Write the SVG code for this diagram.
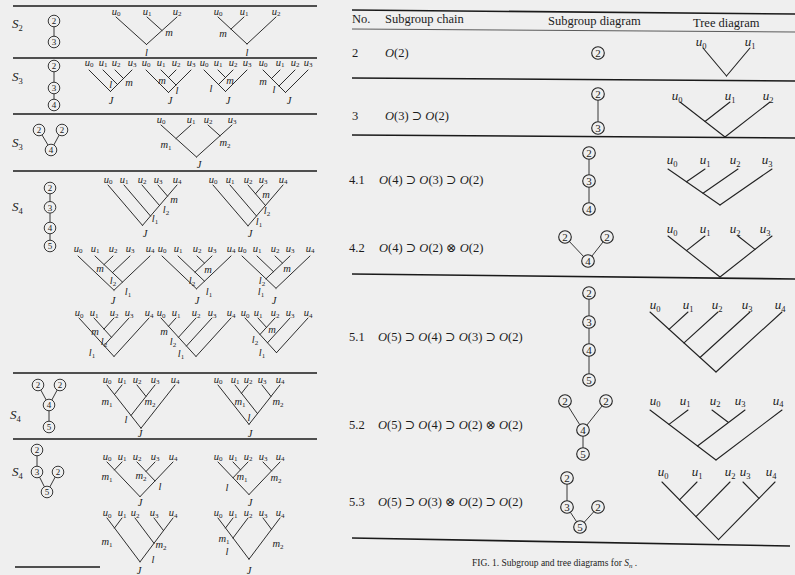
<svg xmlns="http://www.w3.org/2000/svg" width="795" height="575" viewBox="0 0 795 575">
<style>
text{font-family:"Liberation Serif","DejaVu Serif",serif;fill:#1c1c1c}
.bg{fill:#efefef}
.rule{stroke:#1a1a1a;stroke-width:1.6;fill:none}
.thin{stroke:#333;stroke-width:0.8;fill:none}
.tr line{stroke:#222;stroke-width:0.95;stroke-linecap:round}
.rt line{stroke:#222;stroke-width:1.1;stroke-linecap:round}
.nd circle{fill:none;stroke:#222;stroke-width:0.9}
.ndr circle{fill:none;stroke:#222;stroke-width:1.1}
.lk line{stroke:#222;stroke-width:0.9}
.cn{font-size:9px;text-anchor:middle}
.cnr{font-size:11px;text-anchor:middle}
.lu{font-size:10.5px;font-style:italic;text-anchor:middle}
.ls{font-size:7px;font-style:normal}
.ru{font-size:13px;font-style:italic;text-anchor:middle}
.rs{font-size:8.5px;font-style:normal}
.S{font-size:13px;font-style:italic}
.Ss{font-size:8.5px;font-style:normal}
.hd{font-size:12.5px}
.mt{font-size:12.5px}
.it{font-style:italic}
.cap{font-size:9.5px}
</style>
<rect class="bg" x="0" y="0" width="795" height="575"/>

<!-- rules -->
<g id="rules">
<line class="rule" x1="13" y1="6" x2="317" y2="6"/>
<line class="rule" x1="13" y1="58" x2="317" y2="58"/>
<line class="rule" x1="13" y1="114" x2="317" y2="114"/>
<line class="rule" x1="13" y1="171" x2="317" y2="171"/>
<line class="rule" x1="13" y1="373" x2="317" y2="373"/>
<line class="rule" x1="13" y1="439" x2="317" y2="439"/>
<line class="rule" x1="15" y1="567" x2="100" y2="567"/>
<line class="rule" x1="352" y1="10" x2="795" y2="14"/>
<line class="thin" x1="352" y1="29" x2="795" y2="32"/>
<line class="rule" x1="352" y1="78" x2="795" y2="81"/>
<line class="rule" x1="352" y1="135" x2="795" y2="138"/>
<line class="rule" x1="352" y1="274" x2="795" y2="279"/>
<line class="rule" x1="352" y1="538" x2="790" y2="546"/>
</g>

<!-- left panel group labels -->
<g id="slabels">
<text class="S" x="12" y="28">S<tspan class="Ss" dy="2.5">2</tspan></text>
<text class="S" x="12" y="81">S<tspan class="Ss" dy="2.5">3</tspan></text>
<text class="S" x="12" y="147">S<tspan class="Ss" dy="2.5">3</tspan></text>
<text class="S" x="12" y="211">S<tspan class="Ss" dy="2.5">4</tspan></text>
<text class="S" x="10" y="419">S<tspan class="Ss" dy="2.5">4</tspan></text>
<text class="S" x="12" y="476">S<tspan class="Ss" dy="2.5">4</tspan></text>
</g>

<!-- connectors between subgroup circles -->
<g id="connectors" class="lk">
<line x1="54" y1="26.8" x2="54" y2="36.2"/>
<line x1="54" y1="71.8" x2="54" y2="82.2"/>
<line x1="54" y1="93.8" x2="54" y2="99.2"/>
<line x1="42" y1="135" x2="48" y2="145"/>
<line x1="59.2" y1="135" x2="53.8" y2="145"/>
<line x1="50" y1="193.8" x2="50" y2="201.5"/>
<line x1="50" y1="213.1" x2="50" y2="222.2"/>
<line x1="50" y1="233.8" x2="50" y2="240.2"/>
<line x1="40.8" y1="390" x2="46.2" y2="400"/>
<line x1="57.2" y1="390" x2="51.8" y2="400"/>
<line x1="49" y1="410.8" x2="49" y2="421.2"/>
<line x1="37" y1="455.8" x2="37" y2="466.2"/>
<line x1="39.6" y1="477.2" x2="44.4" y2="486.8"/>
<line x1="55.2" y1="477" x2="49.8" y2="487"/>
<line x1="598" y1="100.3" x2="598" y2="121.7"/>
<line x1="589" y1="159.3" x2="589" y2="174.7"/>
<line x1="589" y1="187.3" x2="589" y2="202.7"/>
<line x1="569.4" y1="241.5" x2="583.6" y2="256.5"/>
<line x1="603.1" y1="241.9" x2="591.9" y2="256.1"/>
<line x1="589" y1="299.3" x2="589" y2="315.7"/>
<line x1="589" y1="328.3" x2="589" y2="343.7"/>
<line x1="589" y1="356.3" x2="589" y2="373.7"/>
<line x1="568.3" y1="406.4" x2="579.7" y2="424.6"/>
<line x1="602.1" y1="405.9" x2="586.9" y2="425.1"/>
<line x1="583" y1="436.3" x2="583" y2="447.7"/>
<line x1="567" y1="484.3" x2="567" y2="500.7"/>
<line x1="570.4" y1="512.3" x2="576.6" y2="521.7"/>
<line x1="593.8" y1="511.7" x2="584.2" y2="522.3"/>
</g>

<!-- left subgroup nodes -->
<g id="nA2" class="nd"><circle cx="54" cy="21" r="5.8"/><text class="cn" x="54" y="24.2">2</text></g>
<g id="nA3" class="nd"><circle cx="54" cy="42" r="5.8"/><text class="cn" x="54" y="45.2">3</text></g>
<g id="nB2" class="nd"><circle cx="54" cy="66" r="5.8"/><text class="cn" x="54" y="69.2">2</text></g>
<g id="nB3" class="nd"><circle cx="54" cy="88" r="5.8"/><text class="cn" x="54" y="91.2">3</text></g>
<g id="nB4" class="nd"><circle cx="54" cy="105" r="5.8"/><text class="cn" x="54" y="108.2">4</text></g>
<g id="nC2a" class="nd"><circle cx="39" cy="130" r="5.8"/><text class="cn" x="39" y="133.2">2</text></g>
<g id="nC2b" class="nd"><circle cx="62" cy="130" r="5.8"/><text class="cn" x="62" y="133.2">2</text></g>
<g id="nC4" class="nd"><circle cx="51" cy="150" r="5.8"/><text class="cn" x="51" y="153.2">4</text></g>
<g id="nD2" class="nd"><circle cx="50" cy="188" r="5.8"/><text class="cn" x="50" y="191.2">2</text></g>
<g id="nD3" class="nd"><circle cx="50" cy="207.3" r="5.8"/><text class="cn" x="50" y="210.5">3</text></g>
<g id="nD4" class="nd"><circle cx="50" cy="228" r="5.8"/><text class="cn" x="50" y="231.2">4</text></g>
<g id="nD5" class="nd"><circle cx="50" cy="246" r="5.8"/><text class="cn" x="50" y="249.2">5</text></g>
<g id="nE2a" class="nd"><circle cx="38" cy="385" r="5.8"/><text class="cn" x="38" y="388.2">2</text></g>
<g id="nE2b" class="nd"><circle cx="60" cy="385" r="5.8"/><text class="cn" x="60" y="388.2">2</text></g>
<g id="nE4" class="nd"><circle cx="49" cy="405" r="5.8"/><text class="cn" x="49" y="408.2">4</text></g>
<g id="nE5" class="nd"><circle cx="49" cy="427" r="5.8"/><text class="cn" x="49" y="430.2">5</text></g>
<g id="nF2a" class="nd"><circle cx="37" cy="450" r="5.8"/><text class="cn" x="37" y="453.2">2</text></g>
<g id="nF3" class="nd"><circle cx="37" cy="472" r="5.8"/><text class="cn" x="37" y="475.2">3</text></g>
<g id="nF2b" class="nd"><circle cx="58" cy="472" r="5.8"/><text class="cn" x="58" y="475.2">2</text></g>
<g id="nF5" class="nd"><circle cx="47" cy="492" r="5.8"/><text class="cn" x="47" y="495.2">5</text></g>

<!-- left trees -->
<g id="tA1" class="tr">
<line x1="116" y1="17" x2="146.5" y2="44.5"/><line x1="147" y1="17" x2="162" y2="30.5"/><line x1="177" y1="17" x2="146.5" y2="44.5"/>
<text class="lu" x="116" y="14.5">u<tspan class="ls" dy="1.8">0</tspan></text>
<text class="lu" x="147" y="14.5">u<tspan class="ls" dy="1.8">1</tspan></text>
<text class="lu" x="177" y="14.5">u<tspan class="ls" dy="1.8">2</tspan></text>
<text class="lu" x="169" y="36">m</text><text class="lu" x="146.5" y="56">l</text>
</g>
<g id="tA2" class="tr">
<line x1="218" y1="17" x2="247" y2="44"/><line x1="244" y1="17" x2="231" y2="29.1"/><line x1="276" y1="17" x2="247" y2="44"/>
<text class="lu" x="218" y="14.5">u<tspan class="ls" dy="1.8">0</tspan></text>
<text class="lu" x="244" y="14.5">u<tspan class="ls" dy="1.8">1</tspan></text>
<text class="lu" x="276" y="14.5">u<tspan class="ls" dy="1.8">2</tspan></text>
<text class="lu" x="223" y="37">m</text><text class="lu" x="247" y="56">l</text>
</g>

<g id="tB1" class="tr">
<line x1="89" y1="70" x2="110.5" y2="91.5"/><line x1="103" y1="70" x2="117.5" y2="84.5"/><line x1="115" y1="70" x2="123.5" y2="78.5"/><line x1="132" y1="70" x2="110.5" y2="91.5"/>
<text class="lu" x="89" y="65.5">u<tspan class="ls" dy="1.8">0</tspan></text>
<text class="lu" x="103" y="65.5">u<tspan class="ls" dy="1.8">1</tspan></text>
<text class="lu" x="116" y="65.5">u<tspan class="ls" dy="1.8">2</tspan></text>
<text class="lu" x="132" y="65.5">u<tspan class="ls" dy="1.8">3</tspan></text>
<text class="lu" x="129" y="86">m</text><text class="lu" x="110.7" y="88">l</text><text class="lu" x="111" y="104">J</text>
</g>
<g id="tB2" class="tr">
<line x1="146" y1="70" x2="168.5" y2="92.5"/><line x1="161" y1="70" x2="176" y2="85"/><line x1="176" y1="70" x2="168.5" y2="77.5"/><line x1="191" y1="70" x2="168.5" y2="92.5"/>
<text class="lu" x="146" y="65.5">u<tspan class="ls" dy="1.8">0</tspan></text>
<text class="lu" x="161" y="65.5">u<tspan class="ls" dy="1.8">1</tspan></text>
<text class="lu" x="176" y="65.5">u<tspan class="ls" dy="1.8">2</tspan></text>
<text class="lu" x="191" y="65.5">u<tspan class="ls" dy="1.8">3</tspan></text>
<text class="lu" x="162" y="84">m</text><text class="lu" x="177" y="94">l</text><text class="lu" x="170" y="104">J</text>
</g>
<g id="tB3" class="tr">
<line x1="204" y1="70" x2="225.5" y2="91.5"/><line x1="218" y1="70" x2="225.5" y2="77.5"/><line x1="233" y1="70" x2="218.5" y2="84.5"/><line x1="247" y1="70" x2="225.5" y2="91.5"/>
<text class="lu" x="204" y="65.5">u<tspan class="ls" dy="1.8">0</tspan></text>
<text class="lu" x="218" y="65.5">u<tspan class="ls" dy="1.8">1</tspan></text>
<text class="lu" x="233" y="65.5">u<tspan class="ls" dy="1.8">2</tspan></text>
<text class="lu" x="247" y="65.5">u<tspan class="ls" dy="1.8">3</tspan></text>
<text class="lu" x="230" y="84">m</text><text class="lu" x="211" y="92">l</text><text class="lu" x="228" y="104">J</text>
</g>
<g id="tB4" class="tr">
<line x1="263" y1="70" x2="285.5" y2="92.5"/><line x1="280" y1="70" x2="271.5" y2="78.5"/><line x1="295" y1="70" x2="279" y2="86"/><line x1="308" y1="70" x2="285.5" y2="92.5"/>
<text class="lu" x="263" y="65.5">u<tspan class="ls" dy="1.8">0</tspan></text>
<text class="lu" x="280" y="65.5">u<tspan class="ls" dy="1.8">1</tspan></text>
<text class="lu" x="295" y="65.5">u<tspan class="ls" dy="1.8">2</tspan></text>
<text class="lu" x="308" y="65.5">u<tspan class="ls" dy="1.8">3</tspan></text>
<text class="lu" x="263" y="85">m</text><text class="lu" x="274" y="93">l</text><text class="lu" x="289" y="104">J</text>
</g>

<g id="tC1" class="tr">
<line x1="161" y1="125" x2="196.5" y2="157"/><line x1="191" y1="125" x2="176" y2="138.5"/><line x1="208" y1="125" x2="220" y2="135.8"/><line x1="232" y1="125" x2="196.5" y2="157"/>
<text class="lu" x="161" y="122.5">u<tspan class="ls" dy="1.8">0</tspan></text>
<text class="lu" x="191" y="122.5">u<tspan class="ls" dy="1.8">1</tspan></text>
<text class="lu" x="208" y="122.5">u<tspan class="ls" dy="1.8">2</tspan></text>
<text class="lu" x="232" y="122.5">u<tspan class="ls" dy="1.8">3</tspan></text>
<text class="lu" x="166" y="148">m<tspan class="ls" dy="1.8">1</tspan></text>
<text class="lu" x="225" y="146">m<tspan class="ls" dy="1.8">2</tspan></text>
<text class="lu" x="199" y="168">J</text>
</g>

<g id="tD1" class="tr">
<line x1="108" y1="185" x2="142.5" y2="225.4"/><line x1="124" y1="185" x2="150.5" y2="216"/><line x1="142" y1="185" x2="159.5" y2="205.5"/><line x1="158" y1="185" x2="167.5" y2="196.1"/><line x1="177" y1="185" x2="142.5" y2="225.4"/>
<text class="lu" x="108" y="182.5">u<tspan class="ls" dy="1.8">0</tspan></text>
<text class="lu" x="124" y="182.5">u<tspan class="ls" dy="1.8">1</tspan></text>
<text class="lu" x="142" y="182.5">u<tspan class="ls" dy="1.8">2</tspan></text>
<text class="lu" x="158" y="182.5">u<tspan class="ls" dy="1.8">3</tspan></text>
<text class="lu" x="177" y="182.5">u<tspan class="ls" dy="1.8">4</tspan></text>
<text class="lu" x="174" y="203">m</text>
<text class="lu" x="166" y="213">l<tspan class="ls" dy="1.8">2</tspan></text>
<text class="lu" x="155" y="222">l<tspan class="ls" dy="1.8">1</tspan></text>
<text class="lu" x="145" y="237">J</text>
</g>
<g id="tD2" class="tr">
<line x1="213" y1="185" x2="248" y2="225.9"/><line x1="230" y1="185" x2="256.5" y2="216"/><line x1="248" y1="185" x2="265.5" y2="205.5"/><line x1="263" y1="185" x2="255.5" y2="193.8"/><line x1="283" y1="185" x2="248" y2="225.9"/>
<text class="lu" x="213" y="182.5">u<tspan class="ls" dy="1.8">0</tspan></text>
<text class="lu" x="230" y="182.5">u<tspan class="ls" dy="1.8">1</tspan></text>
<text class="lu" x="248" y="182.5">u<tspan class="ls" dy="1.8">2</tspan></text>
<text class="lu" x="263" y="182.5">u<tspan class="ls" dy="1.8">3</tspan></text>
<text class="lu" x="283" y="182.5">u<tspan class="ls" dy="1.8">4</tspan></text>
<text class="lu" x="266" y="198">m</text>
<text class="lu" x="267" y="214">l<tspan class="ls" dy="1.8">2</tspan></text>
<text class="lu" x="259" y="225">l<tspan class="ls" dy="1.8">1</tspan></text>
<text class="lu" x="250" y="237">J</text>
</g>

<g id="tD3" class="tr">
<line x1="78" y1="256" x2="114" y2="290.2"/><line x1="95" y1="256" x2="122.5" y2="282.1"/><line x1="113" y1="256" x2="104" y2="264.6"/><line x1="130" y1="256" x2="112.5" y2="272.6"/><line x1="150" y1="256" x2="114" y2="290.2"/>
<text class="lu" x="78" y="251.5">u<tspan class="ls" dy="1.8">0</tspan></text>
<text class="lu" x="95" y="251.5">u<tspan class="ls" dy="1.8">1</tspan></text>
<text class="lu" x="113" y="251.5">u<tspan class="ls" dy="1.8">2</tspan></text>
<text class="lu" x="130" y="251.5">u<tspan class="ls" dy="1.8">3</tspan></text>
<text class="lu" x="150" y="251.5">u<tspan class="ls" dy="1.8">4</tspan></text>
<text class="lu" x="100" y="272">m</text>
<text class="lu" x="113" y="284">l<tspan class="ls" dy="1.8">2</tspan></text>
<text class="lu" x="128" y="295">l<tspan class="ls" dy="1.8">1</tspan></text>
<text class="lu" x="113" y="303.5">J</text>
</g>
<g id="tD4" class="tr">
<line x1="162" y1="256" x2="196.5" y2="288.8"/><line x1="178" y1="256" x2="204.5" y2="281.2"/><line x1="197" y1="256" x2="204.5" y2="263.1"/><line x1="212" y1="256" x2="195" y2="272.2"/><line x1="231" y1="256" x2="196.5" y2="288.8"/>
<text class="lu" x="162" y="251.5">u<tspan class="ls" dy="1.8">0</tspan></text>
<text class="lu" x="178" y="251.5">u<tspan class="ls" dy="1.8">1</tspan></text>
<text class="lu" x="197" y="251.5">u<tspan class="ls" dy="1.8">2</tspan></text>
<text class="lu" x="212" y="251.5">u<tspan class="ls" dy="1.8">3</tspan></text>
<text class="lu" x="231" y="251.5">u<tspan class="ls" dy="1.8">4</tspan></text>
<text class="lu" x="208" y="273">m</text>
<text class="lu" x="192" y="284">l<tspan class="ls" dy="1.8">2</tspan></text>
<text class="lu" x="209" y="295">l<tspan class="ls" dy="1.8">1</tspan></text>
<text class="lu" x="197" y="303.5">J</text>
</g>
<g id="tD5" class="tr">
<line x1="242" y1="256" x2="276" y2="288.3"/><line x1="257" y1="256" x2="273.5" y2="271.7"/><line x1="275" y1="256" x2="282.5" y2="263.1"/><line x1="290" y1="256" x2="266" y2="278.8"/><line x1="310" y1="256" x2="276" y2="288.3"/>
<text class="lu" x="242" y="251.5">u<tspan class="ls" dy="1.8">0</tspan></text>
<text class="lu" x="257" y="251.5">u<tspan class="ls" dy="1.8">1</tspan></text>
<text class="lu" x="275" y="251.5">u<tspan class="ls" dy="1.8">2</tspan></text>
<text class="lu" x="290" y="251.5">u<tspan class="ls" dy="1.8">3</tspan></text>
<text class="lu" x="310" y="251.5">u<tspan class="ls" dy="1.8">4</tspan></text>
<text class="lu" x="287" y="272">m</text>
<text class="lu" x="262" y="284">l<tspan class="ls" dy="1.8">2</tspan></text>
<text class="lu" x="261" y="295">l<tspan class="ls" dy="1.8">1</tspan></text>
<text class="lu" x="274" y="303.5">J</text>
</g>

<g id="tD6" class="tr">
<line x1="79" y1="318" x2="114" y2="356.5"/><line x1="94" y1="318" x2="111.5" y2="337.3"/><line x1="114" y1="318" x2="104" y2="329"/><line x1="129" y1="318" x2="104" y2="345.5"/><line x1="149" y1="318" x2="114" y2="356.5"/>
<text class="lu" x="79" y="316">u<tspan class="ls" dy="1.8">0</tspan></text>
<text class="lu" x="94" y="316">u<tspan class="ls" dy="1.8">1</tspan></text>
<text class="lu" x="114" y="316">u<tspan class="ls" dy="1.8">2</tspan></text>
<text class="lu" x="129" y="316">u<tspan class="ls" dy="1.8">3</tspan></text>
<text class="lu" x="149" y="316">u<tspan class="ls" dy="1.8">4</tspan></text>
<text class="lu" x="95" y="335">m</text>
<text class="lu" x="104" y="345">l<tspan class="ls" dy="1.8">2</tspan></text>
<text class="lu" x="92" y="356">l<tspan class="ls" dy="1.8">1</tspan></text>
</g>
<g id="tD7" class="tr">
<line x1="161" y1="318" x2="196" y2="356.5"/><line x1="176" y1="318" x2="168.5" y2="326.3"/><line x1="196" y1="318" x2="178.5" y2="337.3"/><line x1="212" y1="318" x2="186.5" y2="346"/><line x1="231" y1="318" x2="196" y2="356.5"/>
<text class="lu" x="161" y="316">u<tspan class="ls" dy="1.8">0</tspan></text>
<text class="lu" x="176" y="316">u<tspan class="ls" dy="1.8">1</tspan></text>
<text class="lu" x="196" y="316">u<tspan class="ls" dy="1.8">2</tspan></text>
<text class="lu" x="212" y="316">u<tspan class="ls" dy="1.8">3</tspan></text>
<text class="lu" x="231" y="316">u<tspan class="ls" dy="1.8">4</tspan></text>
<text class="lu" x="164" y="335">m</text>
<text class="lu" x="173" y="345">l<tspan class="ls" dy="1.8">2</tspan></text>
<text class="lu" x="181" y="357">l<tspan class="ls" dy="1.8">1</tspan></text>
</g>
<g id="tD8" class="tr">
<line x1="245" y1="318" x2="276.5" y2="352.7"/><line x1="258" y1="318" x2="266.5" y2="327.4"/><line x1="275" y1="318" x2="260" y2="334.5"/><line x1="290" y1="318" x2="267.5" y2="342.8"/><line x1="308" y1="318" x2="276.5" y2="352.7"/>
<text class="lu" x="245" y="316">u<tspan class="ls" dy="1.8">0</tspan></text>
<text class="lu" x="258" y="316">u<tspan class="ls" dy="1.8">1</tspan></text>
<text class="lu" x="275" y="316">u<tspan class="ls" dy="1.8">2</tspan></text>
<text class="lu" x="290" y="316">u<tspan class="ls" dy="1.8">3</tspan></text>
<text class="lu" x="308" y="316">u<tspan class="ls" dy="1.8">4</tspan></text>
<text class="lu" x="272" y="333">m</text>
<text class="lu" x="255" y="343">l<tspan class="ls" dy="1.8">2</tspan></text>
<text class="lu" x="262" y="356">l<tspan class="ls" dy="1.8">1</tspan></text>
</g>

<g id="tE1" class="tr">
<line x1="107" y1="385" x2="141" y2="428.2"/><line x1="122" y1="385" x2="114.5" y2="394.5"/><line x1="137" y1="385" x2="146" y2="396.4"/><line x1="155" y1="385" x2="131" y2="415.5"/><line x1="175" y1="385" x2="141" y2="428.2"/>
<text class="lu" x="107" y="382.5">u<tspan class="ls" dy="1.8">0</tspan></text>
<text class="lu" x="122" y="382.5">u<tspan class="ls" dy="1.8">1</tspan></text>
<text class="lu" x="137" y="382.5">u<tspan class="ls" dy="1.8">2</tspan></text>
<text class="lu" x="155" y="382.5">u<tspan class="ls" dy="1.8">3</tspan></text>
<text class="lu" x="175" y="382.5">u<tspan class="ls" dy="1.8">4</tspan></text>
<text class="lu" x="107" y="405">m<tspan class="ls" dy="1.8">1</tspan></text>
<text class="lu" x="150" y="405">m<tspan class="ls" dy="1.8">2</tspan></text>
<text class="lu" x="126" y="423">l</text>
<text class="lu" x="140" y="437">J</text>
</g>
<g id="tE2" class="tr">
<line x1="218" y1="385" x2="249" y2="424.4"/><line x1="235" y1="385" x2="257.5" y2="413.6"/><line x1="248" y1="385" x2="241.5" y2="393.3"/><line x1="262" y1="385" x2="271" y2="396.4"/><line x1="280" y1="385" x2="249" y2="424.4"/>
<text class="lu" x="218" y="382.5">u<tspan class="ls" dy="1.8">0</tspan></text>
<text class="lu" x="235" y="382.5">u<tspan class="ls" dy="1.8">1</tspan></text>
<text class="lu" x="248" y="382.5">u<tspan class="ls" dy="1.8">2</tspan></text>
<text class="lu" x="262" y="382.5">u<tspan class="ls" dy="1.8">3</tspan></text>
<text class="lu" x="280" y="382.5">u<tspan class="ls" dy="1.8">4</tspan></text>
<text class="lu" x="240" y="405">m<tspan class="ls" dy="1.8">1</tspan></text>
<text class="lu" x="278" y="405">m<tspan class="ls" dy="1.8">2</tspan></text>
<text class="lu" x="249" y="421">l</text>
<text class="lu" x="250" y="437">J</text>
</g>

<g id="tF1" class="tr">
<line x1="107" y1="462" x2="140" y2="496.7"/><line x1="122" y1="462" x2="114.5" y2="469.9"/><line x1="137" y1="462" x2="155" y2="480.9"/><line x1="155" y1="462" x2="146" y2="471.5"/><line x1="173" y1="462" x2="140" y2="496.7"/>
<text class="lu" x="107" y="459.5">u<tspan class="ls" dy="1.8">0</tspan></text>
<text class="lu" x="122" y="459.5">u<tspan class="ls" dy="1.8">1</tspan></text>
<text class="lu" x="137" y="459.5">u<tspan class="ls" dy="1.8">2</tspan></text>
<text class="lu" x="155" y="459.5">u<tspan class="ls" dy="1.8">3</tspan></text>
<text class="lu" x="173" y="459.5">u<tspan class="ls" dy="1.8">4</tspan></text>
<text class="lu" x="107" y="480">m<tspan class="ls" dy="1.8">1</tspan></text>
<text class="lu" x="141" y="479">m<tspan class="ls" dy="1.8">2</tspan></text>
<text class="lu" x="160" y="490">l</text>
<text class="lu" x="140" y="505.5">J</text>
</g>
<g id="tF2" class="tr">
<line x1="218" y1="462" x2="249" y2="494.6"/><line x1="233" y1="462" x2="240.5" y2="469.9"/><line x1="248" y1="462" x2="233" y2="477.8"/><line x1="263" y1="462" x2="271.5" y2="470.9"/><line x1="280" y1="462" x2="249" y2="494.6"/>
<text class="lu" x="218" y="459.5">u<tspan class="ls" dy="1.8">0</tspan></text>
<text class="lu" x="233" y="459.5">u<tspan class="ls" dy="1.8">1</tspan></text>
<text class="lu" x="248" y="459.5">u<tspan class="ls" dy="1.8">2</tspan></text>
<text class="lu" x="263" y="459.5">u<tspan class="ls" dy="1.8">3</tspan></text>
<text class="lu" x="280" y="459.5">u<tspan class="ls" dy="1.8">4</tspan></text>
<text class="lu" x="242" y="480">m<tspan class="ls" dy="1.8">1</tspan></text>
<text class="lu" x="276" y="481">m<tspan class="ls" dy="1.8">2</tspan></text>
<text class="lu" x="227" y="491">l</text>
<text class="lu" x="250" y="505.5">J</text>
</g>

<g id="tG1" class="tr">
<line x1="107" y1="518" x2="140" y2="561.9"/><line x1="122" y1="518" x2="114.5" y2="528"/><line x1="135" y1="518" x2="154" y2="543.3"/><line x1="154" y1="518" x2="163.5" y2="530.6"/><line x1="173" y1="518" x2="140" y2="561.9"/>
<text class="lu" x="107" y="516">u<tspan class="ls" dy="1.8">0</tspan></text>
<text class="lu" x="122" y="516">u<tspan class="ls" dy="1.8">1</tspan></text>
<text class="lu" x="135" y="516">u<tspan class="ls" dy="1.8">2</tspan></text>
<text class="lu" x="154" y="516">u<tspan class="ls" dy="1.8">3</tspan></text>
<text class="lu" x="173" y="516">u<tspan class="ls" dy="1.8">4</tspan></text>
<text class="lu" x="107" y="545">m<tspan class="ls" dy="1.8">1</tspan></text>
<text class="lu" x="161" y="548">m<tspan class="ls" dy="1.8">2</tspan></text>
<text class="lu" x="153" y="563">l</text>
<text class="lu" x="139" y="574">J</text>
</g>
<g id="tG2" class="tr">
<line x1="218" y1="518" x2="249" y2="559.2"/><line x1="233" y1="518" x2="225.5" y2="528"/><line x1="248" y1="518" x2="233" y2="538"/><line x1="263" y1="518" x2="271.5" y2="529.3"/><line x1="280" y1="518" x2="249" y2="559.2"/>
<text class="lu" x="218" y="516">u<tspan class="ls" dy="1.8">0</tspan></text>
<text class="lu" x="233" y="516">u<tspan class="ls" dy="1.8">1</tspan></text>
<text class="lu" x="248" y="516">u<tspan class="ls" dy="1.8">2</tspan></text>
<text class="lu" x="263" y="516">u<tspan class="ls" dy="1.8">3</tspan></text>
<text class="lu" x="280" y="516">u<tspan class="ls" dy="1.8">4</tspan></text>
<text class="lu" x="224" y="542">m<tspan class="ls" dy="1.8">1</tspan></text>
<text class="lu" x="227" y="555">l</text>
<text class="lu" x="278" y="547">m<tspan class="ls" dy="1.8">2</tspan></text>
<text class="lu" x="249" y="574">J</text>
</g>

<!-- right panel header -->
<g id="header">
<text class="hd" x="352" y="23">No.</text>
<text class="hd" x="385" y="23">Subgroup chain</text>
<text class="hd" x="548" y="24.5">Subgroup diagram</text>
<text class="hd" x="693" y="26.5">Tree diagram</text>
</g>

<!-- right panel rows text -->
<g id="chains">
<text class="mt" x="352" y="57">2</text>
<text class="mt" x="385" y="57"><tspan class="it">O</tspan>(2)</text>
<text class="mt" x="352" y="120">3</text>
<text class="mt" x="385" y="120"><tspan class="it">O</tspan>(3) ⊃ <tspan class="it">O</tspan>(2)</text>
<text class="mt" x="349" y="184">4.1</text>
<text class="mt" x="379" y="184"><tspan class="it">O</tspan>(4) ⊃ <tspan class="it">O</tspan>(3) ⊃ <tspan class="it">O</tspan>(2)</text>
<text class="mt" x="349" y="252">4.2</text>
<text class="mt" x="379" y="252"><tspan class="it">O</tspan>(4) ⊃ <tspan class="it">O</tspan>(2) ⊗ <tspan class="it">O</tspan>(2)</text>
<text class="mt" x="349" y="341">5.1</text>
<text class="mt" x="378" y="341"><tspan class="it">O</tspan>(5) ⊃ <tspan class="it">O</tspan>(4) ⊃ <tspan class="it">O</tspan>(3) ⊃ <tspan class="it">O</tspan>(2)</text>
<text class="mt" x="349" y="429">5.2</text>
<text class="mt" x="378" y="429"><tspan class="it">O</tspan>(5) ⊃ <tspan class="it">O</tspan>(4) ⊃ <tspan class="it">O</tspan>(2) ⊗ <tspan class="it">O</tspan>(2)</text>
<text class="mt" x="349" y="506">5.3</text>
<text class="mt" x="378" y="506"><tspan class="it">O</tspan>(5) ⊃ <tspan class="it">O</tspan>(3) ⊗ <tspan class="it">O</tspan>(2) ⊃ <tspan class="it">O</tspan>(2)</text>
</g>

<!-- right subgroup nodes -->
<g id="r2_2" class="ndr"><circle cx="598" cy="53" r="6.3"/><text class="cnr" x="598" y="56.8">2</text></g>
<g id="r3_2" class="ndr"><circle cx="598" cy="94" r="6.3"/><text class="cnr" x="598" y="97.8">2</text></g>
<g id="r3_3" class="ndr"><circle cx="598" cy="128" r="6.3"/><text class="cnr" x="598" y="131.8">3</text></g>
<g id="r41_2" class="ndr"><circle cx="589" cy="153" r="6.3"/><text class="cnr" x="589" y="156.8">2</text></g>
<g id="r41_3" class="ndr"><circle cx="589" cy="181" r="6.3"/><text class="cnr" x="589" y="184.8">3</text></g>
<g id="r41_4" class="ndr"><circle cx="589" cy="209" r="6.3"/><text class="cnr" x="589" y="212.8">4</text></g>
<g id="r42_2a" class="ndr"><circle cx="565" cy="237" r="6.3"/><text class="cnr" x="565" y="240.8">2</text></g>
<g id="r42_2b" class="ndr"><circle cx="607" cy="237" r="6.3"/><text class="cnr" x="607" y="240.8">2</text></g>
<g id="r42_4" class="ndr"><circle cx="588" cy="261" r="6.3"/><text class="cnr" x="588" y="264.8">4</text></g>
<g id="r51_2" class="ndr"><circle cx="589" cy="293" r="6.3"/><text class="cnr" x="589" y="296.8">2</text></g>
<g id="r51_3" class="ndr"><circle cx="589" cy="322" r="6.3"/><text class="cnr" x="589" y="325.8">3</text></g>
<g id="r51_4" class="ndr"><circle cx="589" cy="350" r="6.3"/><text class="cnr" x="589" y="353.8">4</text></g>
<g id="r51_5" class="ndr"><circle cx="589" cy="380" r="6.3"/><text class="cnr" x="589" y="383.8">5</text></g>
<g id="r52_2a" class="ndr"><circle cx="565" cy="401" r="6.3"/><text class="cnr" x="565" y="404.8">2</text></g>
<g id="r52_2b" class="ndr"><circle cx="606" cy="401" r="6.3"/><text class="cnr" x="606" y="404.8">2</text></g>
<g id="r52_4" class="ndr"><circle cx="583" cy="430" r="6.3"/><text class="cnr" x="583" y="433.8">4</text></g>
<g id="r52_5" class="ndr"><circle cx="583" cy="454" r="6.3"/><text class="cnr" x="583" y="457.8">5</text></g>
<g id="r53_2a" class="ndr"><circle cx="567" cy="478" r="6.3"/><text class="cnr" x="567" y="481.8">2</text></g>
<g id="r53_3" class="ndr"><circle cx="567" cy="507" r="6.3"/><text class="cnr" x="567" y="510.8">3</text></g>
<g id="r53_2b" class="ndr"><circle cx="598" cy="507" r="6.3"/><text class="cnr" x="598" y="510.8">2</text></g>
<g id="r53_5" class="ndr"><circle cx="580" cy="527" r="6.3"/><text class="cnr" x="580" y="530.8">5</text></g>

<!-- right trees -->
<g id="rt2" class="rt">
<line x1="703" y1="48" x2="726.5" y2="76"/><line x1="750" y1="48" x2="726.5" y2="76"/>
<text class="ru" x="701" y="46">u<tspan class="rs" dy="2.5">0</tspan></text>
<text class="ru" x="750" y="46">u<tspan class="rs" dy="2.5">1</tspan></text>
</g>
<g id="rt3" class="rt">
<line x1="680" y1="102" x2="725" y2="137"/><line x1="730" y1="102" x2="705" y2="121.5"/><line x1="770" y1="102" x2="725" y2="137"/>
<text class="ru" x="677" y="100">u<tspan class="rs" dy="2.5">0</tspan></text>
<text class="ru" x="730" y="100">u<tspan class="rs" dy="2.5">1</tspan></text>
<text class="ru" x="768" y="100">u<tspan class="rs" dy="2.5">2</tspan></text>
</g>
<g id="rt41" class="rt">
<line x1="668" y1="169" x2="720" y2="205"/><line x1="705" y1="169" x2="686.5" y2="181.8"/><line x1="738" y1="169" x2="703" y2="193.2"/><line x1="772" y1="169" x2="720" y2="205"/>
<text class="ru" x="672" y="164">u<tspan class="rs" dy="2.5">0</tspan></text>
<text class="ru" x="705" y="164">u<tspan class="rs" dy="2.5">1</tspan></text>
<text class="ru" x="735" y="164">u<tspan class="rs" dy="2.5">2</tspan></text>
<text class="ru" x="767" y="164">u<tspan class="rs" dy="2.5">3</tspan></text>
</g>
<g id="rt42" class="rt">
<line x1="668" y1="236" x2="720" y2="277"/><line x1="705" y1="236" x2="686.5" y2="250.6"/><line x1="738" y1="236" x2="755" y2="249.4"/><line x1="772" y1="236" x2="720" y2="277"/>
<text class="ru" x="672" y="233">u<tspan class="rs" dy="2.5">0</tspan></text>
<text class="ru" x="705" y="233">u<tspan class="rs" dy="2.5">1</tspan></text>
<text class="ru" x="735" y="233">u<tspan class="rs" dy="2.5">2</tspan></text>
<text class="ru" x="765" y="233">u<tspan class="rs" dy="2.5">3</tspan></text>
</g>
<g id="rt51" class="rt">
<line x1="650" y1="312" x2="716" y2="372"/><line x1="688" y1="312" x2="669" y2="329.3"/><line x1="718" y1="312" x2="684" y2="342.9"/><line x1="750" y1="312" x2="700" y2="357.5"/><line x1="782" y1="312" x2="716" y2="372"/>
<text class="ru" x="655" y="309">u<tspan class="rs" dy="2.5">0</tspan></text>
<text class="ru" x="688" y="309">u<tspan class="rs" dy="2.5">1</tspan></text>
<text class="ru" x="717" y="309">u<tspan class="rs" dy="2.5">2</tspan></text>
<text class="ru" x="747" y="309">u<tspan class="rs" dy="2.5">3</tspan></text>
<text class="ru" x="780" y="309">u<tspan class="rs" dy="2.5">4</tspan></text>
</g>
<g id="rt52" class="rt">
<line x1="650" y1="410" x2="716" y2="460"/><line x1="688" y1="410" x2="669" y2="424.4"/><line x1="712" y1="410" x2="728.5" y2="422.5"/><line x1="745" y1="410" x2="697.5" y2="446"/><line x1="782" y1="410" x2="716" y2="460"/>
<text class="ru" x="655" y="404.5">u<tspan class="rs" dy="2.5">0</tspan></text>
<text class="ru" x="685" y="404.5">u<tspan class="rs" dy="2.5">1</tspan></text>
<text class="ru" x="715" y="404.5">u<tspan class="rs" dy="2.5">2</tspan></text>
<text class="ru" x="740" y="404.5">u<tspan class="rs" dy="2.5">3</tspan></text>
<text class="ru" x="778" y="404.5">u<tspan class="rs" dy="2.5">4</tspan></text>
</g>
<g id="rt53" class="rt">
<line x1="662" y1="482" x2="718.5" y2="539.6"/><line x1="697" y1="482" x2="679.5" y2="499.9"/><line x1="730" y1="482" x2="696" y2="516.7"/><line x1="743" y1="482" x2="759" y2="498.3"/><line x1="775" y1="482" x2="718.5" y2="539.6"/>
<text class="ru" x="663" y="476">u<tspan class="rs" dy="2.5">0</tspan></text>
<text class="ru" x="697" y="476">u<tspan class="rs" dy="2.5">1</tspan></text>
<text class="ru" x="730" y="476">u<tspan class="rs" dy="2.5">2</tspan></text>
<text class="ru" x="745" y="476">u<tspan class="rs" dy="2.5">3</tspan></text>
<text class="ru" x="771" y="476">u<tspan class="rs" dy="2.5">4</tspan></text>
</g>

<text class="cap" x="472" y="566">FIG. 1. Subgroup and tree diagrams for <tspan class="it">S</tspan><tspan class="it" font-size="7" dy="2">n</tspan><tspan dy="-2"> .</tspan></text>
</svg>
